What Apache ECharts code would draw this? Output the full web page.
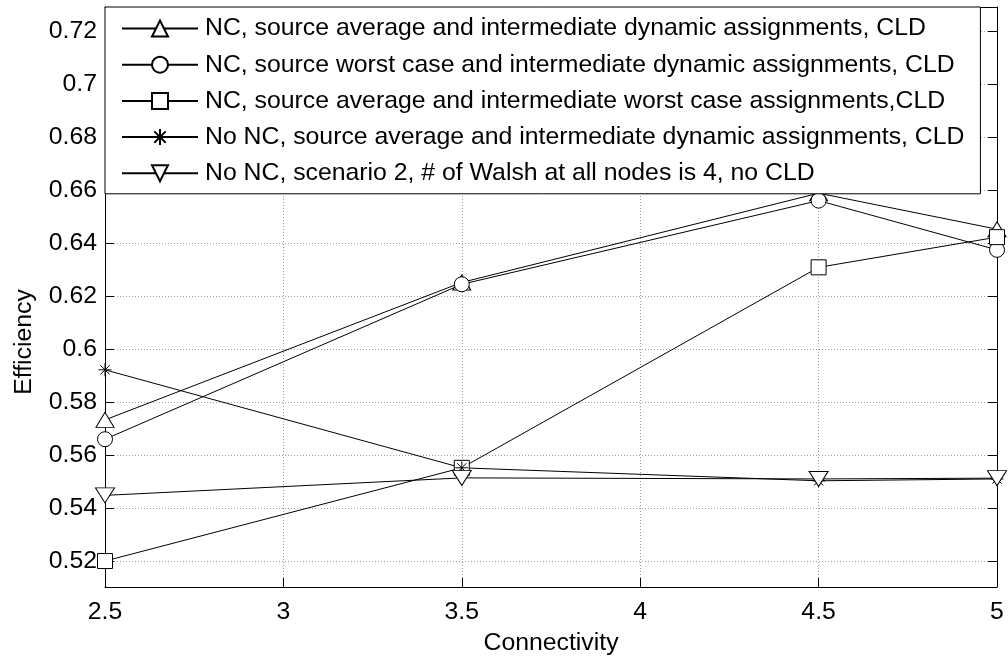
<!DOCTYPE html>
<html>
<head>
<meta charset="utf-8">
<script src="https://cdn.jsdelivr.net/npm/echarts@6/dist/echarts.min.js"></script>
<style>
  html, body { margin: 0; padding: 0; background: #fff; }
  #chart { width: 1008px; height: 656px; }
</style>
</head>
<body>
<div id="chart"></div>
<script>
// Connectivity values on the x axis
const connectivity = [2.5, 3.5, 4.5, 5];

// Efficiency for each scheme
const ncAvgDynamic   = [0.5733, 0.6252, 0.6589, 0.6453];
const ncWorstDynamic = [0.5660, 0.6245, 0.6561, 0.6375];
const ncAvgWorst     = [0.5200, 0.5552, 0.6309, 0.6423];
const noNcAvgDynamic = [0.5922, 0.5552, 0.5503, 0.5510];
const noNcScenario2  = [0.5448, 0.5514, 0.5510, 0.5513];

const seriesNames = [
  'NC, source average and intermediate dynamic assignments, CLD',
  'NC, source worst case and intermediate dynamic assignments, CLD',
  'NC, source average and intermediate worst case assignments,CLD',
  'No NC, source average and intermediate dynamic assignments, CLD',
  'No NC, scenario 2, # of Walsh at all nodes is 4, no CLD'
];

const yTicks = [0.52, 0.54, 0.56, 0.58, 0.6, 0.62, 0.64, 0.66, 0.68, 0.7, 0.72];

const FONT = '"Liberation Sans", Arial, Helvetica, sans-serif';
const FS = 24.8;
const fmt = v => String(+(+v).toFixed(2));

const markers = [
  { symbol: 'triangle', size: [18, 15] },
  { symbol: 'circle', size: 15 },
  { symbol: 'rect', size: 15 },
  { symbol: 'path://M8,0L8,16M0,8L16,8M2.3,2.3L13.7,13.7M13.7,2.3L2.3,13.7', size: 13 },
  { symbol: 'path://M0,0L20,0L10,15Z', size: [19, 15] }
];

const values = [ncAvgDynamic, ncWorstDynamic, ncAvgWorst, noNcAvgDynamic, noNcScenario2];

const series = values.map((vals, i) => ({
  type: 'line',
  name: seriesNames[i],
  data: connectivity.map((x, j) => [x, vals[j]]),
  symbol: markers[i].symbol,
  symbolSize: markers[i].size,
  showSymbol: true,
  showAllSymbol: true,
  lineStyle: { color: '#000', width: 1 },
  itemStyle: { color: '#fff', borderColor: '#000', borderWidth: 1 },
  emphasis: { disabled: true },
  z: 3
}));

const axisLineStyle = { show: true, lineStyle: { color: '#000', width: 1 } };
const tickStyle = { show: true, inside: true, length: 9, lineStyle: { color: '#000', width: 1 } };
const gridLine = { show: true, lineStyle: { color: '#a0a0a0', width: 1, type: [1, 2] } };

const option = {
  animation: false,
  backgroundColor: '#fff',
  grid: { left: 105, right: 11, top: 7, bottom: 69, containLabel: false, outerBoundsMode: 'none' },
  legend: {
    orient: 'vertical',
    left: 105,
    top: 7,
    padding: [9, 16, 8, 16],
    itemWidth: 76,
    itemHeight: 20,
    itemGap: 11.2,
    backgroundColor: '#fff',
    borderColor: '#000',
    borderWidth: 1,
    borderRadius: 0,
    z: 10,
    selectedMode: false,
    data: seriesNames,
    textStyle: { fontFamily: FONT, fontSize: FS, color: '#000', padding: [0, 0, 0, 2] }
  },
  xAxis: [
    {
      type: 'value', position: 'bottom', min: 2.5, max: 5, interval: 0.5,
      axisLine: axisLineStyle, axisTick: tickStyle, splitLine: gridLine,
      axisLabel: { show: true, margin: 13, color: '#000', fontFamily: FONT, fontSize: FS,
                   formatter: fmt, showMinLabel: true, showMaxLabel: true },
      name: 'Connectivity', nameLocation: 'middle', nameGap: 44,
      nameTextStyle: { fontFamily: FONT, fontSize: FS, color: '#000' }
    },
    {
      type: 'value', position: 'top', min: 2.5, max: 5, interval: 0.5,
      axisLine: axisLineStyle, axisTick: tickStyle,
      splitLine: { show: false }, axisLabel: { show: false }
    }
  ],
  yAxis: [
    {
      type: 'value', position: 'left', min: 0.5102, max: 0.7292,
      axisLine: axisLineStyle,
      axisTick: Object.assign({}, tickStyle, { customValues: yTicks }),
      splitLine: gridLine,
      axisLabel: { show: true, margin: 8, color: '#000', fontFamily: FONT, fontSize: FS,
                   formatter: fmt, customValues: yTicks },
      name: 'Efficiency', nameLocation: 'middle', nameGap: 68,
      // the title sits a little below the axis midpoint
      nameTextStyle: { fontFamily: FONT, fontSize: FS, color: '#000', padding: [0, 90, 0, 0] }
    },
    {
      type: 'value', position: 'right', min: 0.5102, max: 0.7292,
      axisLine: axisLineStyle,
      axisTick: Object.assign({}, tickStyle, { customValues: yTicks }),
      splitLine: { show: false }, axisLabel: { show: false }
    }
  ],
  series: series
};

const chart = echarts.init(document.getElementById('chart'), null, { renderer: 'canvas' });
chart.setOption(option);
</script>
</body>
</html>
